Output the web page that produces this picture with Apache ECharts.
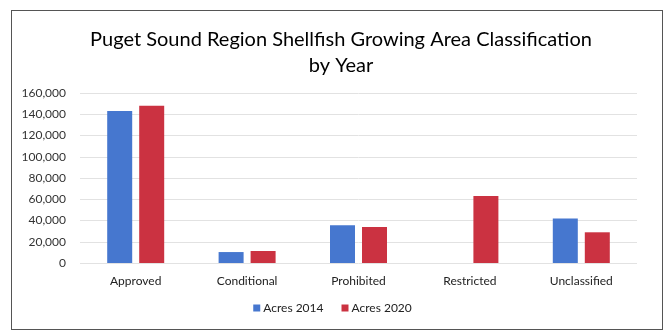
<!DOCTYPE html>
<html>
<head>
<meta charset="utf-8">
<script src="https://cdn.jsdelivr.net/npm/echarts@6/dist/echarts.min.js"></script>
<style>
  html, body { margin: 0; padding: 0; background: #fff; }
  #frame { position: absolute; left: 11px; top: 10px; width: 652px; height: 320px; border: 1px solid #555; box-sizing: border-box; }
  #chart { position: absolute; left: 0; top: 0; width: 665px; height: 332px; }
</style>
</head>
<body>
<div id="frame"></div>
<div id="chart"></div>
<script>
const categories = ['Approved', 'Conditional', 'Prohibited', 'Restricted', 'Unclassified']
const acres2014 = [143000, 10300, 35500, 0, 42000]
const acres2020 = [148000, 11300, 33900, 63000, 28900]
const seriesNames = ['Acres 2014', 'Acres 2020']
const colors = ['#4677CF', '#CB3241']

const chart = echarts.init(document.getElementById('chart'))

const option = {
  animation: false,
  title: {
    text: 'Puget Sound Region Shellfish Growing Area Classification\nby Year',
    left: 336,
    textAlign: 'center',
    top: 22,
    textStyle: {
      fontFamily: 'Lato',
      fontSize: 20,
      fontWeight: 'normal',
      color: '#000',
      lineHeight: 26
    }
  },
  legend: {
    data: seriesNames,
    bottom: 13,
    left: 'center',
    itemWidth: 7,
    itemHeight: 7,
    itemGap: 18,
    icon: 'rect',
    textStyle: { fontFamily: 'Lato', fontSize: 12, color: '#222', padding: [0, 0, 0, -2] }
  },
  grid: {
    left: 80,
    right: 28,
    top: 93,
    bottom: 69
  },
  xAxis: {
    type: 'category',
    data: categories,
    axisLine: { show: false },
    axisTick: { show: false },
    axisLabel: { fontFamily: 'Lato', fontSize: 12, color: '#222', margin: 12 }
  },
  yAxis: {
    type: 'value',
    min: 0,
    max: 160000,
    interval: 20000,
    axisLine: { show: false },
    axisTick: { show: false },
    axisLabel: {
      fontFamily: 'Lato',
      fontSize: 12,
      color: '#333',
      margin: 14,
      formatter: v => v.toLocaleString('en-US')
    },
    splitLine: { lineStyle: { color: '#e2e2e2', width: 1 } }
  },
  series: [
    {
      name: seriesNames[0],
      type: 'bar',
      data: acres2014,
      barWidth: 25,
      barGap: '28%',
      itemStyle: { color: colors[0] }
    },
    {
      name: seriesNames[1],
      type: 'bar',
      data: acres2020,
      barWidth: 25,
      itemStyle: { color: colors[1] }
    }
  ]
}

chart.setOption(option)
</script>
</body>
</html>
